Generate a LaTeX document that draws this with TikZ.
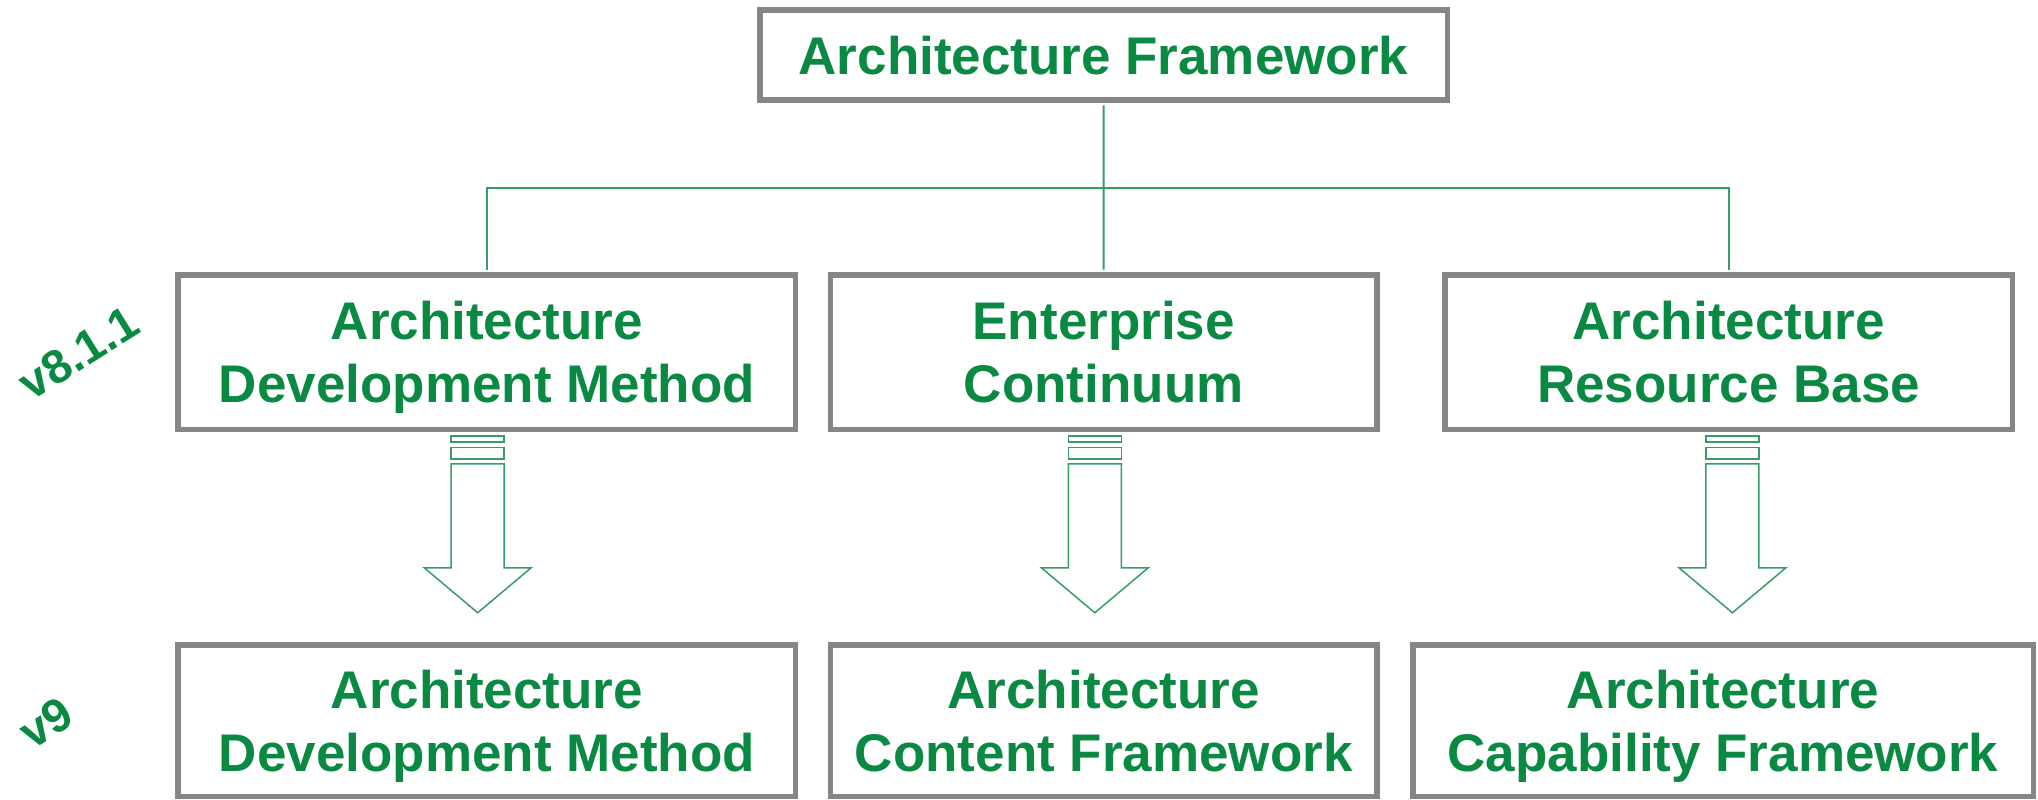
\documentclass[tikz,border=0pt]{standalone}
\usepackage{fontspec}
\setmainfont{Liberation Sans}
\definecolor{togreen}{RGB}{10,137,67}
\definecolor{linegreen}{RGB}{52,158,104}
\definecolor{boxgray}{RGB}{134,134,134}
\tikzset{
  frame/.style={draw=boxgray, line width=2.75pt, text=togreen, align=center,
    font=\bfseries\fontsize{26.5}{31.5}\selectfont, inner sep=0pt, text depth=0pt},
  tree/.style={draw=linegreen, line width=1pt, shorten <=1.2pt, shorten >=1.2pt},
  shiftarrow/.style={draw=linegreen, line width=0.75pt},
  version/.style={text=togreen, font=\bfseries\fontsize{23.5}{28}\selectfont, rotate=32}
}
\begin{document}
\begin{tikzpicture}[x=0.5pt, y=-0.5pt]
\useasboundingbox (0,0) rectangle (2038,799);
% Draw the boxes
        \node[frame, minimum width=343.75pt, minimum height=45.1pt] (af) at (1103.5,55) {Architecture Framework};
        \node[frame, minimum width=308.75pt, minimum height=77.25pt] (adm) at (486.9,352) {Architecture\\Development Method};
        \node[frame, minimum width=273.15pt, minimum height=77.25pt] (ec) at (1103.7,352) {Enterprise\\Continuum};
        \node[frame, minimum width=283.6pt, minimum height=77.25pt] (arb) at (1728.7,352) {Architecture\\Resource Base};
        \node[frame, minimum width=308.75pt, minimum height=75.75pt] (admnine) at (486.9,720.5) {Architecture\\Development Method};
        \node[frame, minimum width=273.15pt, minimum height=75.75pt] (acf) at (1103.7,720.5) {Architecture\\Content Framework};
        \node[frame, minimum width=310.25pt, minimum height=75.75pt] (acapf) at (1723,720.5) {Architecture\\Capability Framework};
% Draw the tree
        \coordinate (bus) at (1103.7,187.7);
        \draw[tree] (af.south) -- (ec.north);
        \draw[tree] (adm.north) |- (bus -| arb.north) -- (arb.north);
% Draw the arrows
        \foreach \b/\dx in {adm/-9.2, ec/-8.9, arb/3.7} {
          \begin{scope}[shift={(\b.south)}, shift={(\dx,0)}]
            \draw[shiftarrow] (-26.5,3.75) rectangle (26.5,9.75);
            \draw[shiftarrow] (-26.5,15.25) rectangle (26.5,26.75);
            \draw[shiftarrow] (-26.5,31.75) -- (26.5,31.75) -- (26.5,135.75) -- (53.5,135.75)
              -- (0,180.75) -- (-53.5,135.75) -- (-26.5,135.75) -- cycle;
          \end{scope}
        }
% Draw the versions
        \node[version] (veight) at (78.7,352.7) {v8.1.1};
        \node[version] (vnine) at (46.3,722.5) {v9};
\end{tikzpicture}
\end{document}
